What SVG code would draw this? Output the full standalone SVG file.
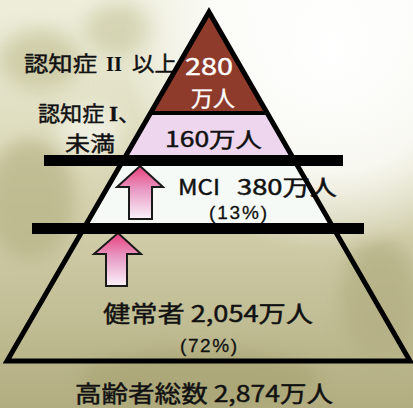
<svg xmlns="http://www.w3.org/2000/svg" width="413" height="408" viewBox="0 0 413 408">
  <defs>
    <linearGradient id="bg" x1="0" y1="0" x2="0" y2="1">
      <stop offset="0" stop-color="#eeeedc"/>
      <stop offset="0.4" stop-color="#dbd9b8"/>
      <stop offset="1" stop-color="#b2ad80"/>
    </linearGradient>
    <radialGradient id="glow" cx="0.8" cy="0.12" r="0.5">
      <stop offset="0" stop-color="#ffffff" stop-opacity="1"/>
      <stop offset="0.6" stop-color="#ffffff" stop-opacity="0.8"/>
      <stop offset="1" stop-color="#ffffff" stop-opacity="0"/>
    </radialGradient>
    <filter id="blur" x="-20%" y="-20%" width="140%" height="140%">
      <feGaussianBlur stdDeviation="9"/>
    </filter>
    <linearGradient id="arrowFill" x1="0" y1="0" x2="0" y2="1">
      <stop offset="0" stop-color="#e8407c"/>
      <stop offset="0.45" stop-color="#e89ac4"/>
      <stop offset="1" stop-color="#fbf2fa"/>
    </linearGradient>
    <clipPath id="tri">
      <polygon points="209,12 7,361 410,361"/>
    </clipPath>
    <style>
      .t { font-family: "Noto Sans CJK JP", "Noto Sans", sans-serif; fill: #111; stroke: #111; stroke-width: 0.45; }
      .p { font-family: "Liberation Sans", "Noto Sans CJK JP", sans-serif; fill: #111; stroke: #111; stroke-width: 0.3; }
      .w { font-family: "Noto Sans CJK JP", "Noto Sans", sans-serif; fill: #ffffff; stroke: #ffffff; stroke-width: 0.4; }
      .rn { font-family: "Liberation Serif", serif; font-weight: bold; fill: #111; }
      .bar { fill: #000; }
      .arrow { fill: url(#arrowFill); stroke: #1a1a1a; stroke-width: 2; stroke-linejoin: miter; }
    </style>
  </defs>

  <!-- background scene -->
  <rect x="0" y="0" width="413" height="408" fill="url(#bg)"/>
  <g filter="url(#blur)" opacity="0.7">
    <ellipse cx="40" cy="60" rx="40" ry="30" fill="#c6c49a"/>
    <ellipse cx="120" cy="30" rx="35" ry="25" fill="#cccba4"/>
    <ellipse cx="30" cy="200" rx="45" ry="60" fill="#b6b386"/>
    <ellipse cx="380" cy="300" rx="40" ry="60" fill="#b2ad82"/>
    <ellipse cx="200" cy="380" rx="120" ry="30" fill="#a9a475"/>
    <ellipse cx="90" cy="130" rx="30" ry="25" fill="#f4f4ec"/>
  </g>
  <rect x="0" y="0" width="413" height="408" fill="url(#glow)"/>

  <g id="label-dementia2">
    <text class="t" x="24" y="71" font-size="21" textLength="73" lengthAdjust="spacingAndGlyphs">認知症</text>
    <text class="rn" x="106" y="71" font-size="21" textLength="16" lengthAdjust="spacingAndGlyphs">II</text>
    <text class="t" x="132" y="71" font-size="21" textLength="45" lengthAdjust="spacingAndGlyphs">以上</text>
  </g>

  <!-- pyramid layers -->
  <g id="pyramid">
    <g clip-path="url(#tri)">
      <rect x="0" y="0" width="413" height="113" fill="#8e3b2c"/>
      <rect x="0" y="113" width="413" height="45" fill="#eed6ee"/>
      <rect x="0" y="160" width="413" height="66" fill="#f6faf6"/>
    </g>
    <line x1="151" y1="113" x2="267" y2="113" stroke="#000" stroke-width="4"/>
  </g>

  <g id="connectors">
    <polygon class="arrow" points="140,166 163,187 152,187 152,219 129,219 129,187 117,187"/>
    <polygon class="arrow" points="118,233 141,254 127,254 127,286 106,286 106,254 94,254"/>
  </g>

  <g id="node-280">
    <text class="w" x="209" y="75" font-size="23" text-anchor="middle" textLength="48" lengthAdjust="spacingAndGlyphs">280</text>
    <text class="w" x="213" y="106" font-size="22" text-anchor="middle">万人</text>
  </g>
  <g id="label-dementia1">
    <text class="t" x="38" y="121" font-size="21" textLength="102" lengthAdjust="spacingAndGlyphs">認知症 <tspan class="rn">I</tspan>、</text>
    <text class="t" x="65" y="151" font-size="21" textLength="50" lengthAdjust="spacingAndGlyphs">未満</text>
  </g>
  <g id="node-160">
    <text class="t" x="165" y="147" font-size="21" textLength="97" lengthAdjust="spacingAndGlyphs">160万人</text>
  </g>
  <g id="node-mci">
    <text class="t" x="178" y="195" font-size="22" textLength="42" lengthAdjust="spacingAndGlyphs">MCI</text>
    <text class="t" x="237" y="195" font-size="22" textLength="100" lengthAdjust="spacingAndGlyphs">380万人</text>
    <text class="p" x="209" y="219" font-size="19" textLength="58" lengthAdjust="spacing">(13%)</text>
  </g>
  <g id="node-healthy">
    <text class="t" x="103" y="322" font-size="23" textLength="210" lengthAdjust="spacingAndGlyphs">健常者 2,054万人</text>
    <text class="p" x="180" y="352" font-size="19" textLength="57" lengthAdjust="spacing">(72%)</text>
  </g>
  <g id="label-total">
    <text class="t" x="75" y="402" font-size="23" textLength="258" lengthAdjust="spacingAndGlyphs">高齢者総数 2,874万人</text>
  </g>

  <g id="outline">
    <polygon points="209,12 7,361 410,361" fill="none" stroke="#000" stroke-width="5" stroke-linejoin="miter"/>
  </g>
  <g id="bars">
    <rect class="bar" x="44" y="155" width="299" height="11"/>
    <rect class="bar" x="32" y="223" width="332" height="11"/>
  </g>
</svg>
